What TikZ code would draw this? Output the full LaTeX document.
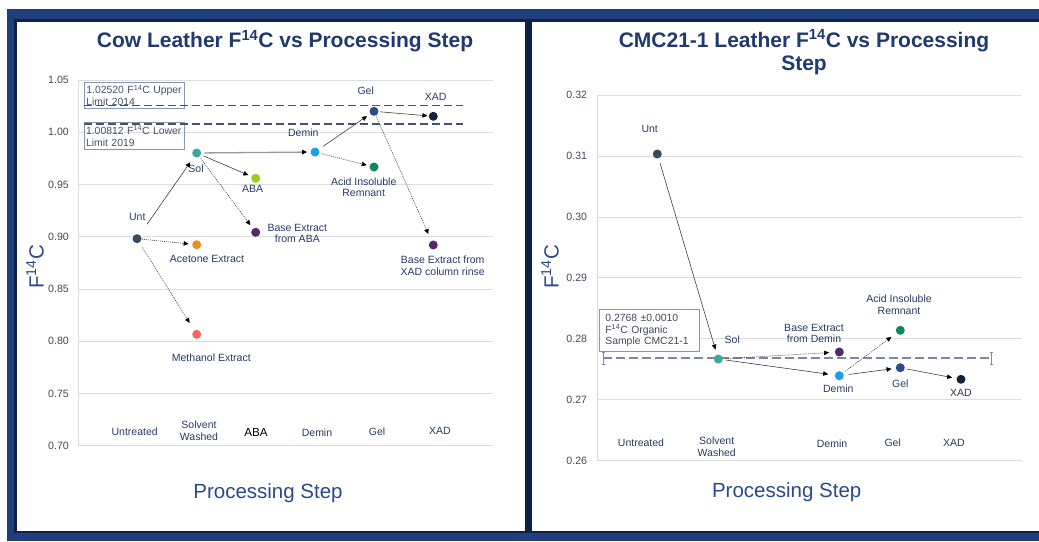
\documentclass[tikz,border=0pt]{standalone}
\usepackage{fontspec}
\setmainfont{Liberation Sans}
\usetikzlibrary{arrows.meta}
\definecolor{bandblue}{HTML}{203E7C}
\definecolor{darknavy}{HTML}{0E2148}
\definecolor{titleblue}{HTML}{1F3A6E}
\definecolor{axisblue}{HTML}{2B4A8C}
\definecolor{lblnavy}{HTML}{263C66}
\definecolor{tickgray}{HTML}{404A5E}
\definecolor{gridgray}{HTML}{DDDDDD}
\definecolor{limitblue}{HTML}{44546A}
\definecolor{boxedge}{HTML}{8497B0}
\definecolor{orgline}{HTML}{7A8AA0}
\definecolor{cUnt}{HTML}{374B5E}
\definecolor{cSol}{HTML}{3AA7A3}
\definecolor{cAce}{HTML}{F28C1F}
\definecolor{cMeth}{HTML}{F0685E}
\definecolor{cABA}{HTML}{9ACD1E}
\definecolor{cPurp}{HTML}{55296F}
\definecolor{cDem}{HTML}{1BA0E2}
\definecolor{cAIR}{HTML}{0E8A5A}
\definecolor{cGel}{HTML}{2B4C8C}
\definecolor{cXAD}{HTML}{13213F}
\newcommand{\fc}{F\textsuperscript{14}C}
\begin{document}
\begin{tikzpicture}[x=1pt,y=-1pt,
  pt/.style={circle, inner sep=0pt, minimum size=9pt},
  lbl/.style={text=lblnavy, font=\fontsize{10.5}{11.7}\selectfont, align=center, inner sep=0pt},
  ticklbl/.style={text=tickgray, font=\fontsize{10.6}{12}\selectfont, anchor=east, inner sep=0pt},
  gridline/.style={draw=gridgray, line width=0.8pt},
  solidarr/.style={draw=black!75, line width=0.6pt, -{Triangle[length=5pt,width=4.5pt,color=black]}},
  dotarr/.style={solidarr, dash pattern=on 1pt off 1pt},
  grayarr/.style={draw=black!40, line width=1.3pt, -{Triangle[length=5pt,width=4.5pt,color=black]}},
  limbox/.style={draw=boxedge, line width=0.7pt, text=limitblue, font=\fontsize{10.4}{11.7}\selectfont, align=left, anchor=north west, inner xsep=2pt, inner ysep=0pt},
  titlestyle/.style={text=titleblue, font=\bfseries\fontsize{21}{23.6}\selectfont, align=center, inner sep=0pt},
  axtitle/.style={text=axisblue, font=\fontsize{20.5}{24}\selectfont, inner sep=0pt},
  catlbl/.style={lbl}
]
\useasboundingbox (0,0) rectangle (1039,541);
% frame
\fill[white] (0,0) rectangle (1039,541);
\fill[bandblue] (7,9) rectangle (1039,541);
\fill[darknavy] (14,19) rectangle (1039,533);
\fill[white] (17,22) rectangle (525,531);
\fill[white] (532,22) rectangle (1039,531);

% ================= Plot 1 =================
\node[titlestyle] (t1) at (285,41) {Cow Leather \fc{} vs Processing Step};
\foreach \yy in {80,132.25,184.5,236.75,289,341.25,393.5,445.75}
  \draw[gridline] (78,\yy) -- (493,\yy);
\draw[gridline] (78,80) -- (78,445.75);
\node[ticklbl] (y105) at (69,80) {1.05};
\node[ticklbl] (y100) at (69,132.25) {1.00};
\node[ticklbl] (y095) at (69,184.5) {0.95};
\node[ticklbl] (y090) at (69,236.75) {0.90};
\node[ticklbl] (y085) at (69,289) {0.85};
\node[ticklbl] (y080) at (69,341.25) {0.80};
\node[ticklbl] (y075) at (69,393.5) {0.75};
\node[ticklbl] (y070) at (69,445.75) {0.70};
\node[axtitle, rotate=90] (ya1) at (35,267) {\fc};
\node[axtitle] (xa1) at (268,493) {Processing Step};

% limit boxes and lines
\node[limbox, minimum height=26.6pt, text width=96pt] (ub) at (84,81.7) {1.02520 \fc{} Upper\\Limit 2014};
\node[limbox, minimum height=26.7pt, text width=96pt] (lb) at (83.7,122.3) {1.00812 \fc{} Lower\\Limit 2019};
\draw[draw=limitblue, line width=1.1pt, dash pattern=on 8pt off 4pt] (84,105.7) -- (463,105.7);
\draw[draw=limitblue, line width=1.1pt, dash pattern=on 8pt off 4pt] (84,124) -- (463,124);

% categories
\node[catlbl] (c1a) at (134.7,431.7) {Untreated};
\node[catlbl] (c1b) at (199,431) {Solvent\\Washed};
\node[catlbl, text=black, font=\fontsize{11.7}{13}\selectfont] (c1c) at (256,432.7) {ABA};
\node[catlbl] (c1d) at (317,433) {Demin};
\node[catlbl] (c1e) at (377,432) {Gel};
\node[catlbl] (c1f) at (440,431) {XAD};

% points
\node[pt, fill=cUnt] (u1) at (137,238.7) {};
\node[pt, fill=cAce] (ace) at (196.7,244.7) {};
\node[pt, fill=cMeth] (meth) at (196.7,334.3) {};
\node[pt, fill=cSol] (s1) at (196.7,153) {};
\node[pt, fill=cABA] (aba) at (255.7,178.3) {};
\node[pt, fill=cPurp] (bea) at (255.7,232.3) {};
\node[pt, fill=cDem] (dem1) at (315,152) {};
\node[pt, fill=cAIR] (air1) at (374,167) {};
\node[pt, fill=cGel] (gel1) at (374,111.3) {};
\node[pt, fill=cXAD] (xad1) at (433.3,116.3) {};
\node[pt, fill=cPurp] (bex) at (433.3,245) {};

% point labels
\node[lbl] (lu1) at (137.3,216.7) {Unt};
\node[lbl] (ls1) at (196,169) {Sol};
\node[lbl] (laba) at (252.7,189) {ABA};
\node[lbl] (lbea) at (297.3,233.3) {Base Extract\\from ABA};
\node[lbl] (lace) at (207,259) {Acetone Extract};
\node[lbl] (lmeth) at (211.3,358) {Methanol Extract};
\node[lbl] (ldem1) at (303.3,132.7) {Demin};
\node[lbl] (lair1) at (363.7,187.3) {Acid Insoluble\\Remnant};
\node[lbl] (lgel1) at (365.7,91) {Gel};
\node[lbl] (lxad1) at (435.7,96.7) {XAD};
\node[lbl] (lbex) at (442.7,265.7) {Base Extract from\\XAD column rinse};

% arrows
\draw[solidarr, shorten <=13pt, shorten >=6.5pt] (u1) -- (s1);
\draw[dotarr, shorten <=0.5pt, shorten >=3.4pt] (u1) -- (ace);
\draw[dotarr, shorten <=5.7pt, shorten >=8.6pt] (u1) -- (meth);
\draw[grayarr, shorten <=3pt, shorten >=3.2pt] (s1) -- (dem1);
\draw[solidarr, shorten <=2.8pt, shorten >=3.2pt] (s1) -- (aba);
\draw[dotarr, shorten <=2pt, shorten >=4.2pt] (s1) -- (bea);
\draw[solidarr, shorten <=5.3pt, shorten >=3.7pt] (dem1) -- (gel1);
\draw[dotarr, shorten <=2pt, shorten >=2.8pt] (dem1) -- (air1);
\draw[solidarr, shorten <=1.5pt, shorten >=1.2pt] (gel1) -- (xad1);
\draw[dotarr, shorten <=0.1pt, shorten >=7.3pt] (gel1) -- (bex);

% ================= Plot 2 =================
\node[titlestyle] (t2) at (804,52.5) {CMC21-1 Leather \fc{} vs Processing\\Step};
\foreach \yy in {95,155.95,216.9,277.85,338.8,399.75,460.7}
  \draw[gridline] (597,\yy) -- (1022,\yy);
\draw[gridline] (597,95) -- (597,460.7);
\node[ticklbl] (z032) at (587.3,95) {0.32};
\node[ticklbl] (z031) at (587.3,155.95) {0.31};
\node[ticklbl] (z030) at (587.3,216.9) {0.30};
\node[ticklbl] (z029) at (587.3,277.85) {0.29};
\node[ticklbl] (z028) at (587.3,338.8) {0.28};
\node[ticklbl] (z027) at (587.3,399.75) {0.27};
\node[ticklbl] (z026) at (587.3,460.7) {0.26};
\node[axtitle, rotate=90] (ya2) at (550,266.7) {\fc};
\node[axtitle] (xa2) at (786.7,492.3) {Processing Step};

% organic sample line
\draw[draw=orgline, line width=2pt, dash pattern=on 9pt off 4pt] (603,358.3) -- (991.3,358.3);
\draw[draw=orgline, line width=0.6pt] (603,352.3) -- (603,364.3) (601.5,352.3) -- (604.5,352.3) (601.5,364.3) -- (604.5,364.3);
\draw[draw=orgline, line width=0.6pt] (991.3,352.3) -- (991.3,364.3) (989.8,352.3) -- (992.8,352.3) (989.8,364.3) -- (992.8,364.3);
\node[limbox, fill=white, minimum height=42.3pt, text width=96pt, text=tickgray, font=\fontsize{10.4}{11.8}\selectfont, inner xsep=2pt] (ob) at (599,309) {\hspace*{4pt}0.2768 ±0.0010\\\hspace*{4pt}\fc{} Organic\\\hspace*{4pt}Sample CMC21-1};

% categories
\node[catlbl] (c2a) at (641,442.7) {Untreated};
\node[catlbl] (c2b) at (716.7,447) {Solvent\\Washed};
\node[catlbl] (c2d) at (832,443.3) {Demin};
\node[catlbl] (c2e) at (892.7,442.7) {Gel};
\node[catlbl] (c2f) at (954,443.3) {XAD};

% points
\node[pt, fill=cUnt] (u2) at (657.3,154) {};
\node[pt, fill=cSol] (s2) at (718.3,359) {};
\node[pt, fill=cPurp] (bed2) at (839.3,352) {};
\node[pt, fill=cDem] (dem2) at (839.3,375.7) {};
\node[pt, fill=cAIR] (air2) at (900.3,330.3) {};
\node[pt, fill=cGel] (gel2) at (900.3,367.7) {};
\node[pt, fill=cXAD] (xad2) at (961,379.3) {};

% labels
\node[lbl] (lu2) at (649.7,129) {Unt};
\node[lbl] (ls2) at (732.3,340) {Sol};
\node[lbl] (lbed2) at (814,333.3) {Base Extract\\from Demin};
\node[lbl] (lair2) at (899,305) {Acid Insoluble\\Remnant};
\node[lbl] (ldem2) at (838.3,389) {Demin};
\node[lbl] (lgel2) at (900.3,383.3) {Gel};
\node[lbl] (lxad2) at (961,392.7) {XAD};

% arrows
\draw[solidarr, shorten <=4.9pt, shorten >=5.1pt] (u2) -- (s2);
\draw[dotarr, shorten <=2.8pt, shorten >=5.5pt] (s2) -- (bed2);
\draw[solidarr, shorten <=2.7pt, shorten >=6.5pt] (s2) -- (dem2);
\draw[dotarr, shorten <=2.6pt, shorten >=6.4pt] (dem2) -- (air2);
\draw[solidarr, shorten <=4.8pt, shorten >=4.1pt] (dem2) -- (gel2);
\draw[solidarr, shorten <=2pt, shorten >=4.3pt] (gel2) -- (xad2);
\end{tikzpicture}
\end{document}
